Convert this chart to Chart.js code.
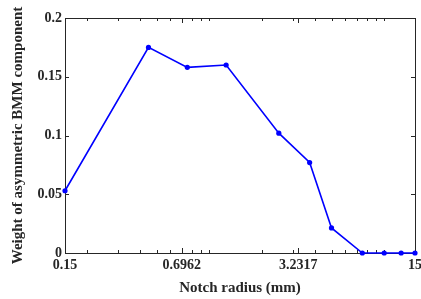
<!DOCTYPE html>
<html><head><meta charset="utf-8">
<script src="https://cdn.jsdelivr.net/npm/chart.js@4"></script>
<style>html,body{margin:0;padding:0;background:#fff}#wrap{width:421px;height:299px}</style>
</head><body><div id="wrap"><canvas id="c" width="421" height="299"></canvas></div>
<script>
const radius = [0.15, 0.45, 0.75, 1.25, 2.5, 3.75, 5, 7.5, 10, 12.5, 15];
const weight = [0.053, 0.175, 0.158, 0.160, 0.102, 0.077, 0.0213, 0, 0, 0, 0];
const xTicks = [0.15, 0.6962, 3.2317, 15];
const xTickLabels = ['0.15', '0.6962', '3.2317', '15'];
const minorTicks = [0.2,0.3,0.4,0.5,0.6,0.7,0.8,0.9,1,2,3,4,5,6,7,8,9,10];
const yTicks = [0, 0.05, 0.1, 0.15, 0.2];
const yTickLabels = ['0', '0.05', '0.1', '0.15', '0.2'];
const xTitle = 'Notch radius (mm)';
const yTitle = 'Weight of asymmetric BMM component';

const axisColor = '#262626';
const fontFam = '"Liberation Serif", "Times New Roman", serif';

const boxPlugin = {
  id: 'box',
  beforeDatasetsDraw(chart) {
    const {ctx, chartArea: a, scales: {x, y}} = chart;
    ctx.save();
    ctx.strokeStyle = axisColor;
    ctx.lineWidth = 1;
    ctx.beginPath();
    ctx.rect(Math.round(a.left) + 0.5, Math.round(a.top) + 0.5, Math.round(a.right - a.left), Math.round(a.bottom - a.top));
    ctx.stroke();
    ctx.beginPath();
    yTicks.forEach(v => {
      const p = Math.round(y.getPixelForValue(v)) + 0.5;
      ctx.moveTo(a.left, p); ctx.lineTo(a.left + 4, p);
      ctx.moveTo(a.right, p); ctx.lineTo(a.right - 4, p);
    });
    xTicks.forEach(v => {
      const p = Math.round(x.getPixelForValue(v)) + 0.5;
      ctx.moveTo(p, a.bottom); ctx.lineTo(p, a.bottom - 5);
      ctx.moveTo(p, a.top); ctx.lineTo(p, a.top + 5);
    });
    minorTicks.forEach(v => {
      const p = Math.round(x.getPixelForValue(v)) + 0.5;
      ctx.moveTo(p, a.bottom); ctx.lineTo(p, a.bottom - 3);
      ctx.moveTo(p, a.top); ctx.lineTo(p, a.top + 3);
    });
    ctx.stroke();
    ctx.restore();
  }
};

new Chart(document.getElementById('c'), {
  type: 'line',
  data: {
    datasets: [{
      data: radius.map((r, i) => ({x: r, y: weight[i]})),
      borderColor: '#0000ff',
      backgroundColor: '#0000ff',
      borderWidth: 1.6,
      pointRadius: 2.6,
      pointHoverRadius: 2.6,
      pointBorderWidth: 0,
      tension: 0,
      clip: false
    }]
  },
  options: {
    responsive: false,
    animation: false,
    devicePixelRatio: 1,
    layout: {padding: {top: 18, right: 6, left: 0, bottom: 0}},
    plugins: {legend: {display: false}, tooltip: {enabled: false}},
    scales: {
      x: {
        type: 'logarithmic',
        min: 0.15, max: 15,
        afterBuildTicks(s) { s.ticks = xTicks.map(v => ({value: v})); },
        afterFit(s) { s.height = 46; s.paddingLeft = 0; s.paddingRight = 0; },
        grid: {display: false, drawTicks: false},
        border: {display: false},
        ticks: {
          autoSkip: false, maxRotation: 0, padding: 4, color: axisColor,
          font: {family: fontFam, size: 14, weight: 'bold'},
          callback(v, i) { return xTickLabels[i]; }
        },
        title: {display: true, text: xTitle, color: axisColor, padding: {top: 0, bottom: 2},
          font: {family: fontFam, size: 15, weight: 'bold'}}
      },
      y: {
        type: 'linear',
        min: 0, max: 0.2,
        afterBuildTicks(s) { s.ticks = yTicks.map(v => ({value: v})); },
        afterFit(s) { s.width = 65; s.paddingTop = 0; s.paddingBottom = 0; },
        grid: {display: false, drawTicks: false},
        border: {display: false},
        ticks: {
          padding: 3, color: axisColor,
          font: {family: fontFam, size: 14, weight: 'bold'},
          callback(v, i) { return yTickLabels[i]; }
        },
        title: {display: true, text: yTitle, color: axisColor, padding: {top: 9, bottom: 0},
          font: {family: fontFam, size: 15, weight: 'bold'}}
      }
    }
  },
  plugins: [boxPlugin]
});
</script></body></html>
